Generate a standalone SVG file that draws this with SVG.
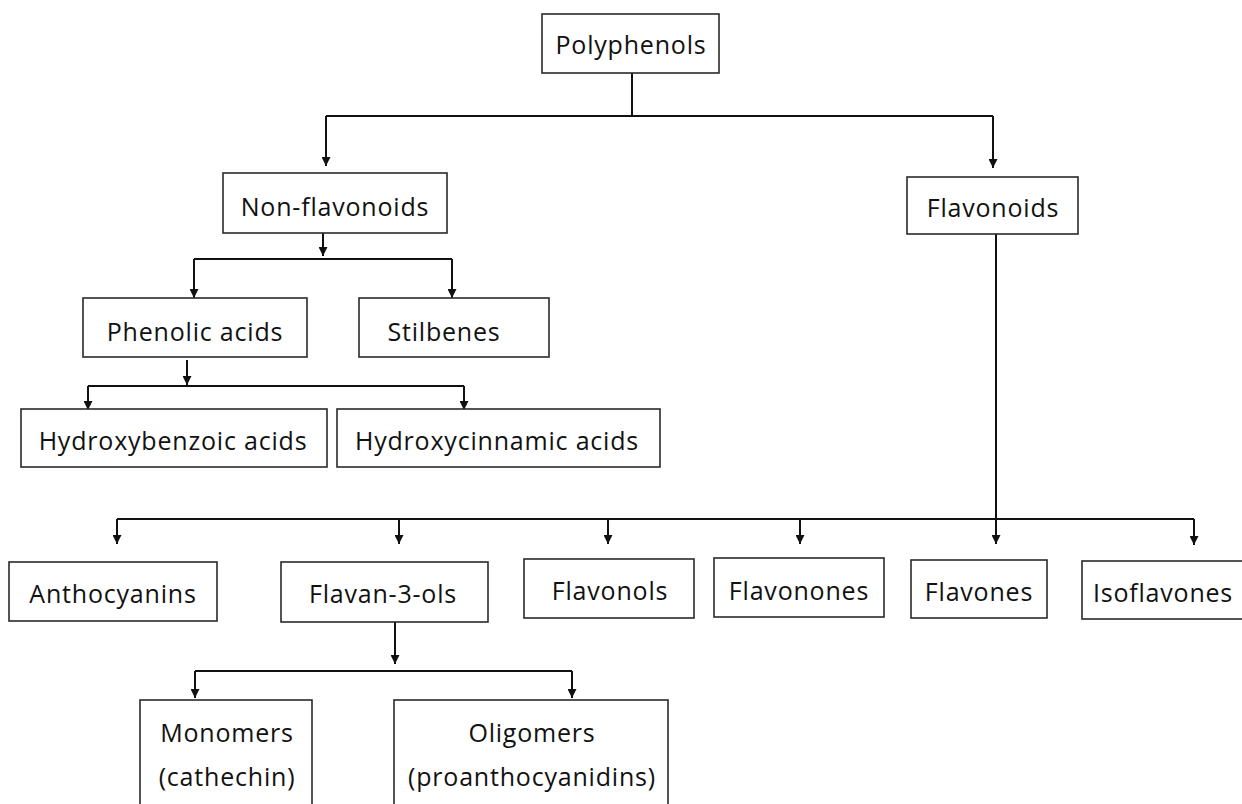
<svg xmlns="http://www.w3.org/2000/svg" width="1242" height="804" viewBox="0 0 1242 804">
<style>
.box{fill:#fff;stroke:#2a2a2a;stroke-width:1.6}
.lbl{font-family:"Open Sans","Noto Sans","Liberation Sans",sans-serif;font-size:25px;fill:#111;text-anchor:middle;letter-spacing:0.8px}
.ln{fill:none;stroke:#111;stroke-width:2}
</style>
<defs>
<marker id="ah" markerUnits="userSpaceOnUse" markerWidth="9" markerHeight="9" refX="9" refY="4.5" orient="auto">
<path d="M0,0 L9,4.5 L0,9 z" fill="#111"/>
</marker>
</defs>
<rect width="1242" height="804" fill="#fff"/>
<g id="connectors">
<path class="ln" d="M632,73 V116 M326,116 H993"/>
<path class="ln" marker-end="url(#ah)" d="M326,116 V166"/>
<path class="ln" marker-end="url(#ah)" d="M993,116 V168"/>
<path class="ln" marker-end="url(#ah)" d="M323,233 V256"/>
<path class="ln" d="M194,259 H452"/>
<path class="ln" marker-end="url(#ah)" d="M194,259 V298"/>
<path class="ln" marker-end="url(#ah)" d="M452,259 V298"/>
<path class="ln" marker-end="url(#ah)" d="M187,360 V385"/>
<path class="ln" d="M88,386 H464"/>
<path class="ln" marker-end="url(#ah)" d="M88,386 V410"/>
<path class="ln" marker-end="url(#ah)" d="M464,386 V410"/>
<path class="ln" d="M996,234 V519 M117,519 H1194"/>
<path class="ln" marker-end="url(#ah)" d="M117,519 V544"/>
<path class="ln" marker-end="url(#ah)" d="M399,519 V544"/>
<path class="ln" marker-end="url(#ah)" d="M608,519 V544"/>
<path class="ln" marker-end="url(#ah)" d="M800,519 V544"/>
<path class="ln" marker-end="url(#ah)" d="M996,519 V544"/>
<path class="ln" marker-end="url(#ah)" d="M1194,519 V545"/>
<path class="ln" marker-end="url(#ah)" d="M395,622 V664"/>
<path class="ln" d="M195,671 H572"/>
<path class="ln" marker-end="url(#ah)" d="M195,671 V698"/>
<path class="ln" marker-end="url(#ah)" d="M572,671 V698"/>
</g>
<g id="polyphenols"><rect class="box" x="542" y="14" width="177" height="59"/><text class="lbl" x="631" y="54">Polyphenols</text></g>
<g id="non-flavonoids"><rect class="box" x="223" y="173" width="224" height="60"/><text class="lbl" x="335" y="216">Non-flavonoids</text></g>
<g id="phenolic-acids"><rect class="box" x="83" y="298" width="224" height="59"/><text class="lbl" x="195" y="341">Phenolic acids</text></g>
<g id="stilbenes"><rect class="box" x="359" y="298" width="190" height="59"/><text class="lbl" x="444" y="341">Stilbenes</text></g>
<g id="hydroxybenzoic"><rect class="box" x="21" y="409" width="306" height="58"/><text class="lbl" x="173" y="450">Hydroxybenzoic acids</text></g>
<g id="hydroxycinnamic"><rect class="box" x="337" y="409" width="323" height="58"/><text class="lbl" x="497" y="450">Hydroxycinnamic acids</text></g>
<g id="flavonoids"><rect class="box" x="907" y="177" width="171" height="57"/><text class="lbl" x="993" y="217">Flavonoids</text></g>
<g id="anthocyanins"><rect class="box" x="9" y="562" width="208" height="59"/><text class="lbl" x="113" y="603">Anthocyanins</text></g>
<g id="flavan-3-ols"><rect class="box" x="281" y="562" width="207" height="60"/><text class="lbl" x="383" y="603">Flavan-3-ols</text></g>
<g id="flavonols"><rect class="box" x="524" y="559" width="170" height="59"/><text class="lbl" x="610" y="600">Flavonols</text></g>
<g id="flavonones"><rect class="box" x="714" y="558" width="170" height="59"/><text class="lbl" x="799" y="600">Flavonones</text></g>
<g id="flavones"><rect class="box" x="911" y="560" width="136" height="58"/><text class="lbl" x="979" y="601">Flavones</text></g>
<g id="isoflavones"><rect class="box" x="1082" y="561" width="170" height="58"/><text class="lbl" x="1163" y="602">Isoflavones</text></g>
<g id="monomers"><rect class="box" x="140" y="700" width="172" height="120"/><text class="lbl" x="227" y="742">Monomers</text><text class="lbl" x="227" y="786">(cathechin)</text></g>
<g id="oligomers"><rect class="box" x="394" y="700" width="274" height="120"/><text class="lbl" x="532" y="742">Oligomers</text><text class="lbl" x="532" y="786">(proanthocyanidins)</text></g>
</svg>
